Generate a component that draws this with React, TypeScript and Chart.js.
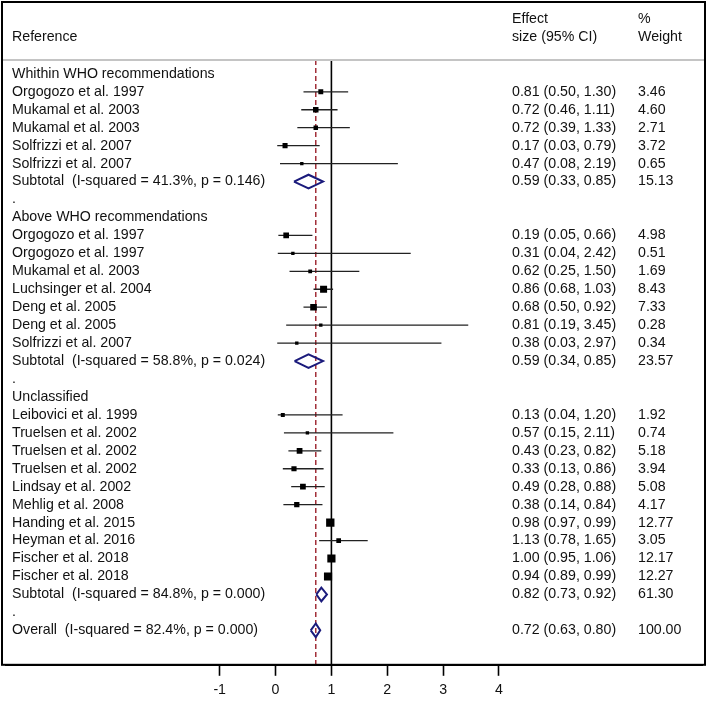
import React, { useEffect, useRef } from "react";
import { Chart, registerables } from "chart.js";

Chart.register(...registerables);

// ---------------- data ----------------
const groupTitles = ["Whithin WHO recommendations", "Above WHO recommendations", "Unclassified"];
const groupSizes = [5, 7, 10];

const studyNames = [
  "Orgogozo et al. 1997",
  "Mukamal et al. 2003",
  "Mukamal et al. 2003",
  "Solfrizzi et al. 2007",
  "Solfrizzi et al. 2007",
  "Orgogozo et al. 1997",
  "Orgogozo et al. 1997",
  "Mukamal et al. 2003",
  "Luchsinger et al. 2004",
  "Deng et al. 2005",
  "Deng et al. 2005",
  "Solfrizzi et al. 2007",
  "Leibovici et al. 1999",
  "Truelsen et al. 2002",
  "Truelsen et al. 2002",
  "Truelsen et al. 2002",
  "Lindsay et al. 2002",
  "Mehlig et al. 2008",
  "Handing et al. 2015",
  "Heyman et al. 2016",
  "Fischer et al. 2018",
  "Fischer et al. 2018",
];
const studyES = [0.81, 0.72, 0.72, 0.17, 0.47, 0.19, 0.31, 0.62, 0.86, 0.68, 0.81, 0.38, 0.13, 0.57, 0.43, 0.33, 0.49, 0.38, 0.98, 1.13, 1.0, 0.94];
const studyLo = [0.5, 0.46, 0.39, 0.03, 0.08, 0.05, 0.04, 0.25, 0.68, 0.5, 0.19, 0.03, 0.04, 0.15, 0.23, 0.13, 0.28, 0.14, 0.97, 0.78, 0.95, 0.89];
const studyHi = [1.3, 1.11, 1.33, 0.79, 2.19, 0.66, 2.42, 1.5, 1.03, 0.92, 3.45, 2.97, 1.2, 2.11, 0.82, 0.86, 0.88, 0.84, 0.99, 1.65, 1.06, 0.99];
const studyWeight = [3.46, 4.6, 2.71, 3.72, 0.65, 4.98, 0.51, 1.69, 8.43, 7.33, 0.28, 0.34, 1.92, 0.74, 5.18, 3.94, 5.08, 4.17, 12.77, 3.05, 12.17, 12.27];

const subtotalLabels = [
  "Subtotal  (I-squared = 41.3%, p = 0.146)",
  "Subtotal  (I-squared = 58.8%, p = 0.024)",
  "Subtotal  (I-squared = 84.8%, p = 0.000)",
];
const subtotalES = [0.59, 0.59, 0.82];
const subtotalLo = [0.33, 0.34, 0.73];
const subtotalHi = [0.85, 0.85, 0.92];
const subtotalWeight = [15.13, 23.57, 61.3];

const overallLabel = "Overall  (I-squared = 82.4%, p = 0.000)";
const overallES = 0.72;
const overallLo = 0.63;
const overallHi = 0.8;
const overallWeight = 100.0;

const xTicks = [-1, 0, 1, 2, 3, 4];
const nullValue = 1;

// ---------------- row table ----------------
type Row = {
  label: string;
  kind: "title" | "study" | "sub" | "dot" | "overall";
  row: number;
  es?: number;
  lo?: number;
  hi?: number;
  w?: number;
};

function buildRows(): Row[] {
  const rows: Row[] = [];
  let k = 0;
  const push = (r: Omit<Row, "row">) => rows.push({ ...r, row: rows.length + 1 });
  groupTitles.forEach((t, g) => {
    push({ label: t, kind: "title" });
    for (let i = 0; i < groupSizes[g]; i++, k++) {
      push({ label: studyNames[k], kind: "study", es: studyES[k], lo: studyLo[k], hi: studyHi[k], w: studyWeight[k] });
    }
    push({ label: subtotalLabels[g], kind: "sub", es: subtotalES[g], lo: subtotalLo[g], hi: subtotalHi[g], w: subtotalWeight[g] });
    push({ label: ".", kind: "dot" });
  });
  push({ label: overallLabel, kind: "overall", es: overallES, lo: overallLo, hi: overallHi, w: overallWeight });
  return rows;
}

const FONT = '"Liberation Sans", Arial, sans-serif';
const FONT_SIZE = 14.2;
const TEXT = "#111";
const Y_MIN = 0.229;
const Y_MAX = 33.92;
const X_MIN = -4.828;
const X_MAX = 7.637;
const DIAMOND_H = 0.38;

const fmt = (v: number) => v.toFixed(2);
const squareSide = (w: number) => Math.max(3.4, 1.2 + 2 * Math.sqrt(w));

export default function App() {
  const ref = useRef<HTMLCanvasElement | null>(null);

  useEffect(() => {
    if (!ref.current) return;
    const rows = buildRows();
    const studies = rows.filter((r) => r.kind === "study");
    const summaries = rows.filter((r) => r.kind === "sub" || r.kind === "overall");

    const squareData = studies.map((r) => ({ x: r.es as number, y: r.row }));
    const squareW = studies.map((r) => r.w as number);
    const ciData: any[] = [];
    studies.forEach((r) => {
      ciData.push({ x: r.lo, y: r.row }, { x: r.hi, y: r.row }, { x: null, y: null });
    });
    const diamondData: any[] = [];
    summaries.forEach((r) => {
      diamondData.push(
        { x: r.lo, y: r.row },
        { x: r.es, y: r.row - DIAMOND_H },
        { x: r.hi, y: r.row },
        { x: r.es, y: r.row + DIAMOND_H },
        { x: r.lo, y: r.row },
        { x: null, y: null }
      );
    });

    const textPlugin = {
      id: "forestText",
      afterDraw(chart: any) {
        const ctx = chart.ctx as CanvasRenderingContext2D;
        const ys = chart.scales.y;
        const area = chart.chartArea;
        ctx.save();
        // header separator
        ctx.strokeStyle = "#c4c4c4";
        ctx.lineWidth = 2;
        ctx.beginPath();
        ctx.moveTo(3, area.top);
        ctx.lineTo(705, area.top);
        ctx.stroke();
        // frame
        ctx.strokeStyle = "#000";
        ctx.lineWidth = 2;
        ctx.strokeRect(2, 2, 703, area.bottom - 2);

        ctx.fillStyle = TEXT;
        ctx.font = `${FONT_SIZE}px ${FONT}`;
        ctx.textBaseline = "middle";
        ctx.textAlign = "left";
        // header
        ctx.fillText("Reference", 12, 37);
        ctx.fillText("Effect", 512, 19);
        ctx.fillText("size (95% CI)", 512, 37);
        ctx.fillText("%", 638, 19);
        ctx.fillText("Weight", 638, 37);
        rows.forEach((r) => {
          const y = ys.getPixelForValue(r.row);
          ctx.fillText(r.label, 12, y);
          if (r.es !== undefined) {
            ctx.fillText(`${fmt(r.es)} (${fmt(r.lo as number)}, ${fmt(r.hi as number)})`, 512, y);
            ctx.fillText(fmt(r.w as number), 638, y);
          }
        });
        ctx.restore();
      },
    };

    const chart = new Chart(ref.current, {
      type: "scatter",
      data: {
        datasets: [
          {
            label: "null",
            data: [
              { x: nullValue, y: Y_MIN },
              { x: nullValue, y: Y_MAX },
            ],
            showLine: true,
            borderColor: "#000",
            borderWidth: 1.6,
            pointRadius: 0,
            order: 5,
          } as any,
          {
            label: "overall line",
            data: [
              { x: overallES, y: Y_MIN },
              { x: overallES, y: Y_MAX },
            ],
            showLine: true,
            borderColor: "#a2303a",
            borderWidth: 1.5,
            borderDash: [5, 3],
            pointRadius: 0,
            order: 4,
          } as any,
          {
            label: "ci",
            data: ciData,
            showLine: true,
            spanGaps: false,
            borderColor: "#222",
            borderWidth: 1.3,
            pointRadius: 0,
            order: 3,
          } as any,
          {
            label: "squares",
            data: squareData,
            pointStyle: "rect",
            pointRadius: (c: any) => squareSide(squareW[c.dataIndex] ?? 1) / Math.SQRT2,
            pointBackgroundColor: "#000",
            pointBorderWidth: 0,
            showLine: false,
            order: 2,
          } as any,
          {
            label: "diamonds",
            data: diamondData,
            showLine: true,
            spanGaps: false,
            borderColor: "#1b1b7c",
            borderWidth: 2,
            borderJoinStyle: "miter",
            pointRadius: 0,
            fill: false,
            order: 1,
          } as any,
        ],
      },
      options: {
        animation: false,
        responsive: false,
        devicePixelRatio: 1,
        events: [],
        layout: { padding: { top: 60, left: 2, right: 3, bottom: 0 } },
        plugins: { legend: { display: false }, tooltip: { enabled: false } },
        scales: {
          x: {
            type: "linear",
            min: X_MIN,
            max: X_MAX,
            afterBuildTicks: (scale: any) => {
              scale.ticks = xTicks.map((v) => ({ value: v }));
            },
            grid: {
              display: true,
              drawOnChartArea: false,
              drawTicks: true,
              tickLength: 11,
              tickWidth: 1.6,
              tickColor: "#000",
            },
            border: { display: true, color: "#000", width: 2 },
            ticks: {
              autoSkip: false,
              maxRotation: 0,
              padding: 7,
              color: TEXT,
              font: { family: FONT, size: FONT_SIZE, lineHeight: 1 },
              callback: (v: any) => String(v),
            },
          },
          y: {
            type: "linear",
            reverse: true,
            min: Y_MIN,
            max: Y_MAX,
            display: false,
          },
        },
      } as any,
      plugins: [textPlugin],
    });
    return () => chart.destroy();
  }, []);

  return (
    <div style={{ position: "absolute", left: 0, top: 0, width: 708, height: 704, background: "#fff" }}>
      <canvas ref={ref} width={708} height={704} style={{ display: "block" }} />
    </div>
  );
}
